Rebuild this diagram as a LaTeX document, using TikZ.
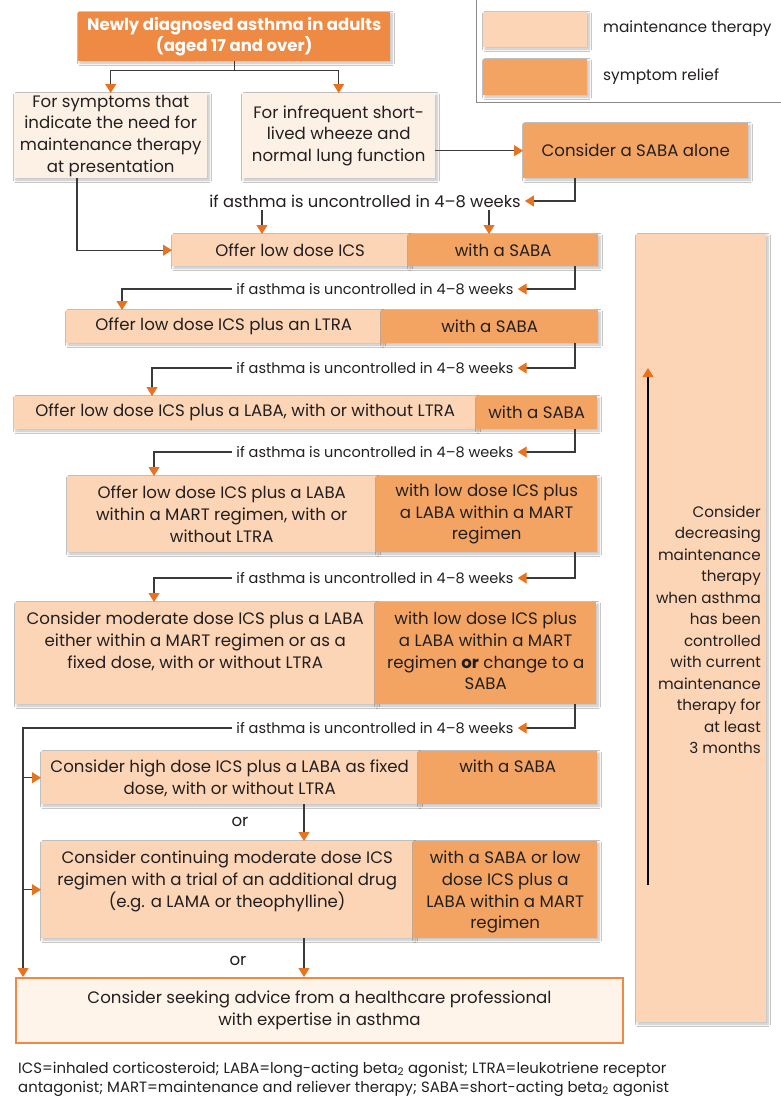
\documentclass[tikz,border=0pt]{standalone}
\usepackage{fontspec}
\setmainfont{Poppins}
\usetikzlibrary{arrows.meta,calc,shadows.blur}
\definecolor{maint}{HTML}{FBD5B5}
\definecolor{sym}{HTML}{F3A462}
\definecolor{topor}{HTML}{EE8A43}
\definecolor{cream}{HTML}{FDF1E6}
\definecolor{cream2}{HTML}{FEF4EA}
\definecolor{arror}{HTML}{E8731E}
\definecolor{linegray}{HTML}{3A3A3A}
\definecolor{textc}{HTML}{231F20}
\definecolor{legframe}{HTML}{8A8A8A}
\tikzset{
  shad/.style={blur shadow={shadow xshift=1.8pt, shadow yshift=-1.8pt, shadow blur radius=2.5pt, shadow blur steps=6, shadow opacity=26}},
  boxbase/.style={rectangle, inner sep=0pt, anchor=north west},
  mbox/.style={boxbase, fill=maint},
  sbox/.style={boxbase, fill=sym},
  cbox/.style={boxbase, fill=cream, shad},
  txt/.style={inner sep=0pt, align=center, text=textc, font=\fontsize{16.6}{21.7}\selectfont},
  lab/.style={inner xsep=4pt, inner ysep=2pt, text=textc, font=\fontsize{14.5}{16}\selectfont},
  conn/.style={draw=linegray, line width=1.1pt},
  arr/.style={conn, -{Triangle[length=9pt,width=11pt,color=arror]}},
}
\begin{document}
\begin{tikzpicture}[x=1pt,y=-1pt]
\useasboundingbox[fill=white] (0,0) rectangle (780,1116);

% legend
\draw[legframe, line width=0.8pt] (476,-3) -- (476,102) -- (783,102);
\node[sbox, fill=maint, shad, minimum width=104, minimum height=35] (lg1) at (483,12) {};
\node[sbox, shad, minimum width=104, minimum height=36] (lg2) at (483,59) {};
\node[txt, anchor=west, font=\fontsize{15.4}{18}\selectfont] (lg1t) at (603,29) {maintenance therapy};
\node[txt, anchor=west, font=\fontsize{15.4}{18}\selectfont] (lg2t) at (603,77) {symptom relief};

% top boxes
\node[boxbase, fill=topor, shad, minimum width=312, minimum height=49] (T) at (78,12) {};
\node[txt, text=white, font=\fontsize{16.5}{21.5}\selectfont\bfseries] (Tt) at (T.center) {Newly diagnosed asthma in adults\\(aged 17 and over)};
\node[cbox, minimum width=193, minimum height=85] (A) at (14,93) {};
\node[txt] (At) at (A.center) {For symptoms that\\indicate the need for\\maintenance therapy\\at presentation};
\node[cbox, minimum width=193, minimum height=85] (B) at (242,93) {};
\node[txt] (Bt) at (B.center) {For infrequent short-\\lived wheeze and\\normal lung function};
\node[sbox, shad, minimum width=225, minimum height=55] (S) at (523,123) {};
\node[txt] (St) at (S.center) {Consider a SABA alone};

% right tall box
\node[mbox, shad, minimum width=130, minimum height=788] (D) at (636,234) {};
\node[txt, align=right, anchor=east, font=\fontsize{15.2}{21.5}\selectfont] (Dt) at (761,630) {Consider\\decreasing\\maintenance\\therapy\\when asthma\\has been\\controlled\\with current\\maintenance\\therapy for\\at least\\3 months};
\draw[arr, draw=black] ($(D.north west)+(12,651)$) -- ($(D.north west)+(12,134)$);

% rows
\node[mbox, shad, minimum width=236, minimum height=32] (R1m) at (172,234) {};
\node[sbox, shad, minimum width=190, minimum height=32] (R1s) at (408,234) {};
\node[txt] (R1mt) at (R1m.center) {Offer low dose ICS};
\node[txt] (R1st) at (R1s.center) {with a SABA};

\node[mbox, shad, minimum width=315, minimum height=33] (R2m) at (66,310) {};
\node[sbox, shad, minimum width=217, minimum height=33] (R2s) at (381,310) {};
\node[txt] (R2mt) at (R2m.center) {Offer low dose ICS plus an LTRA};
\node[txt] (R2st) at (R2s.center) {with a SABA};

\node[mbox, shad, minimum width=462, minimum height=33] (R3m) at (14,396) {};
\node[sbox, shad, minimum width=121, minimum height=33] (R3s) at (476,396) {};
\node[txt] (R3mt) at (R3m.center) {Offer low dose ICS plus a LABA, with or without LTRA};
\node[txt] (R3st) at (R3s.center) {with a SABA};

\node[mbox, shad, minimum width=309, minimum height=76] (R4m) at (67,476) {};
\node[sbox, shad, minimum width=221, minimum height=76] (R4s) at (376,476) {};
\node[txt] (R4mt) at (R4m.center) {Offer low dose ICS plus a LABA\\within a MART regimen, with or\\without LTRA};
\node[txt] (R4st) at (R4s.center) {with low dose ICS plus\\a LABA within a MART\\regimen};

\node[mbox, shad, minimum width=360, minimum height=102] (R5m) at (15,602) {};
\node[sbox, shad, minimum width=221, minimum height=102] (R5s) at (375,602) {};
\node[txt, anchor=north] (R5mt) at ($(R5m.north)+(0,10)$) {Consider moderate dose ICS plus a LABA\\either within a MART regimen or as a\\fixed dose, with or without LTRA};
\node[txt, anchor=north] (R5st) at ($(R5s.north)+(0,10)$) {with low dose ICS plus\\a LABA within a MART\\regimen \textbf{or} change to a\\SABA};

\node[mbox, shad, minimum width=377, minimum height=53] (R6m) at (41,751) {};
\node[sbox, shad, minimum width=179, minimum height=53] (R6s) at (418,751) {};
\node[txt, anchor=north] (R6mt) at ($(R6m.north)+(0,9)$) {Consider high dose ICS plus a LABA as fixed\\dose, with or without LTRA};
\node[txt, anchor=north] (R6st) at ($(R6s.north)+(0,9)$) {with a SABA};

\node[mbox, shad, minimum width=372, minimum height=97] (R7m) at (41,841) {};
\node[sbox, shad, minimum width=184, minimum height=97] (R7s) at (413,841) {};
\node[txt, anchor=north] (R7mt) at ($(R7m.north)+(0,10)$) {Consider continuing moderate dose ICS\\regimen with a trial of an additional drug\\(e.g. a LAMA or theophylline)};
\node[txt, anchor=north] (R7st) at ($(R7s.north)+(0,10)$) {with a SABA or low\\dose ICS plus a\\LABA within a MART\\regimen};

\node[boxbase, fill=cream2, draw=topor, line width=2pt, minimum width=607, minimum height=65] (F) at (15,977) {};
\node[txt] (Ft) at (F.center) {Consider seeking advice from a healthcare professional\\with expertise in asthma};

% "or" labels
\node[txt] (O1) at (240,822) {or};
\node[txt] (O2) at (238,961) {or};

% step labels
\node[lab, font=\fontsize{16.3}{18}\selectfont] (L1) at (365,201) {if asthma is uncontrolled in 4–8 weeks};
\node[lab] (L2) at (375,289) {if asthma is uncontrolled in 4–8 weeks};
\node[lab] (L3) at (375,368) {if asthma is uncontrolled in 4–8 weeks};
\node[lab] (L4) at (375,452) {if asthma is uncontrolled in 4–8 weeks};
\node[lab] (L5) at (375,578) {if asthma is uncontrolled in 4–8 weeks};
\node[lab] (L6) at (375,728) {if asthma is uncontrolled in 4–8 weeks};

% connectors
\coordinate (tj) at ($(T.south)+(0,9)$);
\draw[conn] (T.south) -- (tj);
\draw[arr] (tj) -| (A.north);
\draw[arr] (tj) -| (B.north);
\draw[arr] (S.west -| B.east) -- (S.west);
\draw[arr] ($(S.south west)+(52,0)$) |- (L1.east);
\draw[arr] (L1.south -| {$(R1m.north west)+(90,0)$}) -- ($(R1m.north west)+(90,0)$);
\draw[arr] (L1.south -| {$(R1s.north west)+(81,0)$}) -- ($(R1s.north west)+(81,0)$);
\draw[arr] ($(A.south west)+(63,0)$) |- (R1m.west);

\draw[arr] ($(R1s.south west)+(167,0)$) |- (L2.east);
\draw[arr] (L2.west) -| ($(R2m.north west)+(56,0)$);
\draw[arr] ($(R2s.south west)+(194,0)$) |- (L3.east);
\draw[arr] (L3.west) -| ($(R3m.north west)+(138,0)$);
\draw[arr] ($(R3s.south west)+(99,0)$) |- (L4.east);
\draw[arr] (L4.west) -| ($(R4m.north west)+(87,0)$);
\draw[arr] ($(R4s.south west)+(199,0)$) |- (L5.east);
\draw[arr] (L5.west) -| ($(R5m.north west)+(139,0)$);
\draw[arr] ($(R5s.south west)+(200,0)$) |- (L6.east);
\coordinate (v6) at ($(F.north west)+(8,0)$);
\draw[arr] (L6.west) -| (v6);
\draw[arr] (R6m.west -| v6) -- (R6m.west);
\draw[arr] (R7m.west -| v6) -- (R7m.west);
\draw[arr] ($(R6m.south west)+(263,0)$) -- ($(R7m.north west)+(263,0)$);
\draw[arr] ($(R7m.south west)+(263,0)$) -- ($(F.north west)+(289,0)$);

% footnote
\node[inner sep=0pt, anchor=base west, align=left, text=textc, font=\fontsize{14.9}{19}\selectfont] (fn) at (18,1092) {ICS=inhaled corticosteroid; LABA=long-acting beta\textsubscript{2} agonist; LTRA=leukotriene receptor\\antagonist; MART=maintenance and reliever therapy; SABA=short-acting beta\textsubscript{2} agonist};
\end{tikzpicture}
\end{document}
